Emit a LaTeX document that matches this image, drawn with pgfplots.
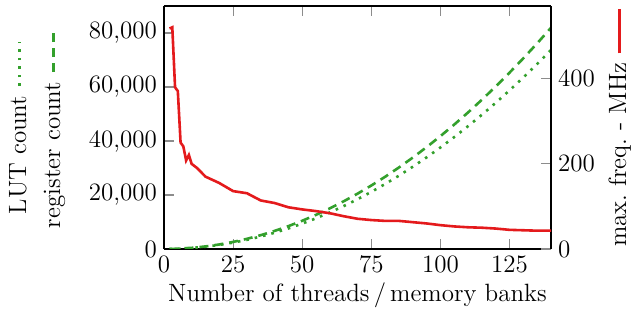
\documentclass[border=0pt]{standalone}
\usepackage{mathpazo}
\usepackage{pgfplots}
\pgfplotsset{compat=1.18}
\definecolor{cred}{HTML}{E41A1C}
\definecolor{cgreen}{HTML}{33A02C}
\pgfplotstableread{
x reg lut
2 17 15
5 105 94
10 418 376
15 941 846
20 1672 1504
25 2613 2350
30 3762 3384
35 5121 4606
40 6688 6016
45 8465 7614
50 10450 9400
55 12645 11374
60 15048 13536
65 17661 15886
70 20482 18424
75 23513 21150
80 26752 24064
85 30201 27166
90 33858 30456
95 37725 33934
100 41800 37600
105 46085 41454
110 50578 45496
115 55281 49726
120 60192 54144
125 65313 58750
130 70642 63544
135 76181 68526
140 81928 73696
}\resources
\pgfplotstableread{
x f
2 518
3 521
4 380
5 371
6 250
7 241
8 208
9 221
10 200
12 190
15 170
20 155
25 136
30 131
35 114
40 108
45 98
50 93
55 89
60 84
65 77
70 71
75 68
80 66
85 66
90 63
95 60
100 56
105 53
110 51
115 50
120 48
125 45
130 44
135 43
140 43
}\freq
\begin{document}
\begin{tikzpicture}[font=\fontsize{12.5}{17}\selectfont]
\pgfplotsset{
  every axis/.append style={
    scale only axis, width=193.5pt, height=121.5pt,
    xmin=0, xmax=140,
    major tick length=5pt,
    major tick style={black!45, line width=0.6pt},
    axis line style={line width=0.6pt},
    xticklabel={\pgfmathprintnumber[assume math mode=true]{\tick}},
    yticklabel={\pgfmathprintnumber[assume math mode=true, 1000 sep={,}]{\tick}},
  }
}
\begin{axis}[name=ax,
  ymin=0, ymax=90000,
  axis y line*=left,
  xtick={0,25,...,125},
  ytick={0,20000,...,80000},
  scaled y ticks=false,
  xlabel={Number of threads\,/\,memory banks},
  xlabel style={yshift=2pt},
  ylabel={LUT count \protect\tikz[baseline=-0.6ex]\protect\draw[cgreen, line width=1.3pt, dash pattern=on 1.3pt off 3pt] (0,0)--(22pt,0);\\register count \protect\tikz[baseline=-0.6ex]\protect\draw[cgreen, line width=1.3pt, dash pattern=on 4.5pt off 3pt] (0,0)--(22pt,0);},
  ylabel style={align=center, yshift=5pt},
]
\addplot[cgreen, line width=1.3pt, dash pattern=on 1.3pt off 3pt] table[x=x, y=lut] {\resources};
\addplot[cgreen, line width=1.3pt, dash pattern=on 4.5pt off 3pt] table[x=x, y=reg] {\resources};
\end{axis}
\begin{axis}[
  ymin=0, ymax=571,
  axis x line=none,
  axis y line*=right,
  ytick={0,200,400},
  scaled y ticks=false,
  ylabel={max.\ freq.\ - MHz \protect\tikz[baseline=-0.6ex]\protect\draw[cred, line width=1.3pt] (0,0)--(22pt,0);},
]
\addplot[cred, line width=1.3pt] table[x=x, y=f] {\freq};
\end{axis}
\path ([shift={(-82pt,-37pt)}]ax.south west) rectangle ([shift={(44.5pt,3pt)}]ax.north east);
\end{tikzpicture}
\end{document}
